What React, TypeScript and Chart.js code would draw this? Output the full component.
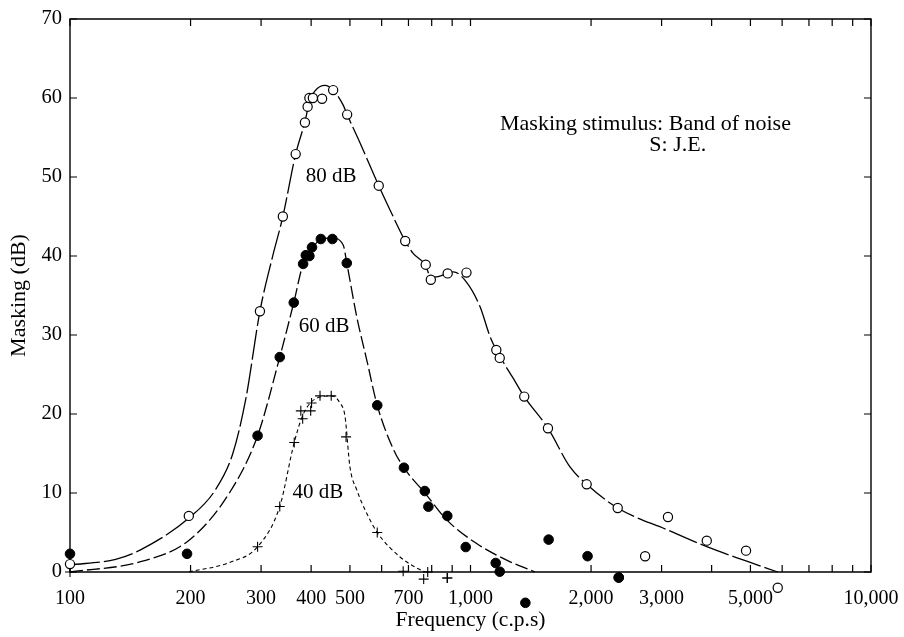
import { useEffect, useRef } from 'react';
import { Chart, registerables } from 'chart.js';

Chart.register(...registerables);

// ---------- data ----------
const xTickValues = [100, 200, 300, 400, 500, 600, 700, 800, 900, 1000, 2000, 3000, 4000, 5000, 6000, 7000, 8000, 9000, 10000];
const xLabelValues = [100, 200, 300, 400, 500, 700, 1000, 2000, 3000, 5000, 10000];
const yTickValues = [0, 10, 20, 30, 40, 50, 60, 70];

// 80 dB: open circles
const openFreq = [100, 198, 298, 340, 366, 386, 392, 396, 404, 426, 454, 492, 590, 687, 773, 796, 877, 977, 1160, 1183, 1362, 1561, 1950, 2331, 2729, 3112, 3890, 4875, 5850];
const openDb = [1, 7.1, 33, 45, 52.9, 56.9, 58.9, 60, 60, 59.9, 61, 57.9, 48.9, 41.9, 38.9, 37, 37.8, 37.9, 28.1, 27.1, 22.2, 18.2, 11.1, 8.1, 2.0, 6.96, 3.97, 2.7, -2.0];

// 60 dB: filled circles
const filledFreq = [100, 196, 294, 334, 362, 382, 388, 396, 402, 423, 452, 491, 585, 682, 769, 785, 875, 973, 1156, 1183, 1371, 1567, 1960, 2345];
const filledDb = [2.3, 2.3, 17.25, 27.2, 34.1, 39.0, 40.1, 40.0, 41.1, 42.15, 42.15, 39.1, 21.1, 13.2, 10.25, 8.27, 7.1, 3.16, 1.14, 0.04, -3.9, 4.1, 2.0, -0.7];

// 40 dB: plus signs
const plusFreq = [100, 294, 334, 363, 377, 381, 399, 401, 421, 449, 489, 585, 679, 764, 782, 875];
const plusDb = [0, 3.2, 8.3, 16.4, 20.4, 19.4, 20.4, 21.4, 22.3, 22.3, 17.1, 5.0, 0.1, -0.9, 0.0, -0.76];

// fitted curves
const curve80Freq = [100, 130, 150, 200, 230, 255, 275, 298, 320, 340, 366, 386, 396, 409, 433, 454, 481, 492, 530, 590, 630, 687, 720, 773, 795, 830, 906, 977, 1056, 1119, 1160, 1279, 1362, 1561, 1772, 1950, 2331, 3112, 3890, 4875, 5850];
const curve80Db = [0.9, 1.6, 2.8, 7.0, 10.3, 15, 22, 33, 39.8, 45, 52.9, 57, 59.5, 60.9, 61.6, 61.0, 59.1, 57.9, 54.3, 48.9, 45.8, 41.9, 40.3, 38.8, 37.3, 37.4, 38.0, 36.7, 33.6, 29.8, 28.1, 24.5, 22.2, 18.2, 13.3, 11.1, 8.1, 5.3, 3.2, 1.4, 0];

const curve60Freq = [100, 150, 198, 250, 294, 334, 362, 382, 400, 423, 450, 481, 491, 520, 551, 585, 641, 682, 775, 872, 1036, 1231, 1449];
const curve60Db = [0, 1.3, 4.0, 10, 17.25, 27.2, 34.1, 39, 40.8, 42.1, 42.3, 41.4, 39.1, 32.3, 26.8, 21.1, 15.6, 13.2, 9.8, 6.6, 3.6, 1.5, 0];

const curve40Freq = [198, 250, 294, 334, 363, 381, 400, 425, 450, 472, 486, 500, 520, 551, 585, 667, 734, 769];
const curve40Db = [0, 1.2, 3.2, 8.3, 16.4, 19.8, 21.5, 22.2, 22.3, 21.4, 19.7, 13.3, 10.4, 7.4, 5.0, 1.9, 0.5, 0];

// text annotations (data coordinates)
const curveLabels = ['80 dB', '60 dB', '40 dB'];
const curveLabelFreq = [449, 431, 416];
const curveLabelDb = [50.1, 31.1, 10.1];
const noteLines = ['Masking stimulus: Band of noise', 'S: J.E.'];
const noteFreq = [1185, 2796];
const noteDb = [55.9, 53.3];

const FONT = '"Liberation Serif", "Times New Roman", serif';

function fmt(v: number): string {
  return String(v).replace(/\B(?=(\d{3})+(?!\d))/g, ',');
}

function pts(xs: number[], ys: number[]) {
  return xs.map((x, i) => ({ x, y: ys[i] }));
}

const framePlugin = {
  id: 'frameTicks',
  beforeDatasetsDraw(chart: any) {
    const { ctx, chartArea: a, scales } = chart;
    const x = scales.x;
    const y = scales.y;
    ctx.save();
    ctx.strokeStyle = '#000';
    ctx.lineWidth = 1.4;
    ctx.beginPath();
    ctx.rect(a.left, a.top, a.right - a.left, a.bottom - a.top);
    ctx.stroke();
    const tl = 7;
    ctx.lineWidth = 1.2;
    ctx.beginPath();
    xTickValues.forEach((v) => {
      const px = x.getPixelForValue(v);
      ctx.moveTo(px, a.bottom);
      ctx.lineTo(px, a.bottom - tl);
      ctx.moveTo(px, a.top);
      ctx.lineTo(px, a.top + tl);
    });
    yTickValues.forEach((v) => {
      const py = y.getPixelForValue(v);
      ctx.moveTo(a.left, py);
      ctx.lineTo(a.left + tl, py);
      ctx.moveTo(a.right, py);
      ctx.lineTo(a.right - tl, py);
    });
    ctx.stroke();
    ctx.restore();
  },
  afterDatasetsDraw(chart: any) {
    const { ctx, chartArea: a, scales } = chart;
    const x = scales.x;
    const y = scales.y;
    // markers that lie outside the plotting area
    const full = { left: 0, top: 0, right: chart.width, bottom: chart.height };
    chart.data.datasets.forEach((ds: any, i: number) => {
      if (!ds.marker) return;
      const meta = chart.getDatasetMeta(i);
      meta.data.forEach((el: any) => {
        if (el.y > a.bottom + 2) el.draw(ctx, full);
      });
    });
    ctx.save();
    ctx.fillStyle = '#000';
    ctx.font = `21px ${FONT}`;
    ctx.textAlign = 'center';
    ctx.textBaseline = 'middle';
    curveLabels.forEach((t, i) => {
      ctx.fillText(t, x.getPixelForValue(curveLabelFreq[i]), y.getPixelForValue(curveLabelDb[i]));
    });
    ctx.font = `22px ${FONT}`;
    ctx.textAlign = 'left';
    ctx.textBaseline = 'alphabetic';
    noteLines.forEach((t, i) => {
      ctx.fillText(t, x.getPixelForValue(noteFreq[i]), y.getPixelForValue(noteDb[i]));
    });
    ctx.restore();
  },
};

export default function App() {
  const ref = useRef<HTMLCanvasElement>(null);
  useEffect(() => {
    if (!ref.current) return;
    const curveCommon = {
      showLine: true,
      pointRadius: 0,
      borderColor: '#000',
      borderWidth: 1.3,
      cubicInterpolationMode: 'monotone' as const,
      fill: false,
      clip: false as any,
      order: 2,
    };
    const chart = new Chart(ref.current, {
      type: 'scatter',
      data: {
        datasets: [
          { ...curveCommon, label: 'c80', data: pts(curve80Freq, curve80Db), borderDash: [30, 4] },
          { ...curveCommon, label: 'c60', data: pts(curve60Freq, curve60Db), borderDash: [13, 4] },
          { ...curveCommon, label: 'c40', data: pts(curve40Freq, curve40Db), borderDash: [4, 3], borderWidth: 1.1 },
          {
            label: '80 dB', marker: true, data: pts(openFreq, openDb), pointStyle: 'circle', pointRadius: 4.6,
            pointBackgroundColor: '#fff', pointBorderColor: '#000', pointBorderWidth: 1.2, clip: false as any, order: 1,
          } as any,
          {
            label: '60 dB', marker: true, data: pts(filledFreq, filledDb), pointStyle: 'circle', pointRadius: 4.8,
            pointBackgroundColor: '#000', pointBorderColor: '#000', pointBorderWidth: 1, clip: false as any, order: 1,
          } as any,
          {
            label: '40 dB', marker: true, data: pts(plusFreq, plusDb), pointStyle: 'cross', pointRadius: 5,
            pointBackgroundColor: '#000', pointBorderColor: '#000', pointBorderWidth: 1.1, clip: false as any, order: 1,
          } as any,
        ],
      },
      options: {
        responsive: false,
        animation: false,
        events: [],
        layout: { padding: { left: 0, right: 33, top: 19, bottom: 0 } },
        plugins: { legend: { display: false }, tooltip: { enabled: false } },
        scales: {
          x: {
            type: 'logarithmic',
            min: 100,
            max: 10000,
            afterBuildTicks: (s: any) => {
              s.ticks = xTickValues.map((v) => ({ value: v }));
            },
            afterFit: (s: any) => {
              s.height = 65;
              s.paddingLeft = 0;
              s.paddingRight = 0;
            },
            grid: { display: false, drawTicks: false },
            border: { display: false },
            ticks: {
              autoSkip: false,
              maxRotation: 0,
              minRotation: 0,
              padding: 15,
              color: '#000',
              font: { family: FONT, size: 20 },
              callback: (v: any) => (xLabelValues.includes(Number(v)) ? fmt(Number(v)) : ''),
            },
            title: {
              display: true,
              text: 'Frequency (c.p.s)',
              color: '#000',
              font: { family: FONT, size: 21.5 },
              padding: { top: 0, bottom: 4 },
            },
          },
          y: {
            min: 0,
            max: 70,
            afterBuildTicks: (s: any) => {
              s.ticks = yTickValues.map((v) => ({ value: v }));
            },
            afterFit: (s: any) => {
              s.width = 70;
              s.paddingTop = 0;
              s.paddingBottom = 0;
            },
            grid: { display: false, drawTicks: false },
            border: { display: false },
            ticks: {
              padding: 8,
              color: '#000',
              font: { family: FONT, size: 20.5 },
              callback: (v: any) => String(v),
            },
            title: {
              display: true,
              text: 'Masking (dB)',
              color: '#000',
              font: { family: FONT, size: 22 },
              padding: { top: 6, bottom: 0 },
            },
          },
        },
      },
      plugins: [framePlugin],
    });
    return () => chart.destroy();
  }, []);
  return (
    <div style={{ position: 'absolute', left: 0, top: 0, width: 904, height: 637, background: '#fff' }}>
      <canvas ref={ref} width={904} height={637} />
    </div>
  );
}
